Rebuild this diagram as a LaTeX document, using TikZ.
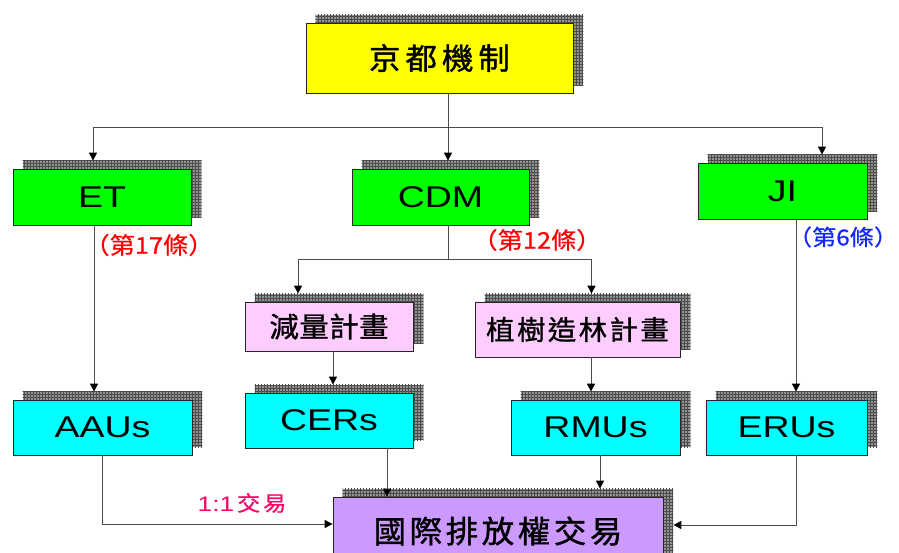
\documentclass[tikz,border=0pt]{standalone}
\usepackage{fontspec}
\setmainfont{Liberation Sans}
\newfontfamily\lat[FakeStretch=1.25]{Liberation Sans}
\newfontfamily\cjk[FakeStretch=1.05,FakeBold=1.2]{Noto Sans CJK TC}
\newfontfamily\cjkn[FakeStretch=1.1,FakeBold=0.8]{Noto Sans CJK TC}
\usetikzlibrary{arrows.meta,patterns,calc,backgrounds}
\makeatletter
\def\spc#1#2{\def\spc@gap{#1}\spc@i#2\relax}
\def\spc@i#1#2{#1\ifx\relax#2\else\hspace{\spc@gap}\expandafter\spc@i\expandafter#2\fi}
\makeatother
\definecolor{cyel}{RGB}{255,255,0}
\definecolor{cgrn}{RGB}{0,255,0}
\definecolor{ccyn}{RGB}{0,255,255}
\definecolor{cpnk}{RGB}{255,204,255}
\definecolor{cpur}{RGB}{204,153,255}
\definecolor{cred}{RGB}{255,0,0}
\definecolor{cblu}{RGB}{20,40,255}
\definecolor{cmag}{RGB}{255,0,102}
\tikzset{
  box/.style 2 args={draw=black!85, line width=0.8pt, inner sep=0pt,
    minimum width=#1pt, minimum height=#2pt},
  lt/.style={font=\lat\fontsize{30}{30}\selectfont},
  shadowfill/.style={preaction={fill=gray!85}, pattern=grid, pattern color=black!70},
  ln/.style={draw=black!70, line width=1pt},
  arr/.style={ln, -{Triangle[length=8pt,width=8pt,black]}},
  lab/.style={font=\cjkn\fontsize{23}{23}\selectfont, inner sep=0pt},
}
\begin{document}
\begin{tikzpicture}[x=1pt,y=-1pt]
\useasboundingbox (0,0) rectangle (899,553);
% boxes
\node[box={267}{70}, fill=cyel] (top) at (439.5,58)
  {\cjk\fontsize{30}{30}\selectfont\spc{5pt}{京都機制}};
\node[box={178}{56}, fill=cgrn, lt] (et) at (102,197) {ET};
\node[box={177}{56}, fill=cgrn, lt] (cdm) at (440.5,197) {CDM};
\node[box={169}{56}, fill=cgrn, lt] (ji) at (782.5,191) {JI};
\node[box={168}{49}, fill=cpnk] (jl) at (329,326.5)
  {\cjk\fontsize{28}{28}\selectfont\spc{0.5pt}{減量計畫}};
\node[box={205}{55}, fill=cpnk] (zs) at (577.5,329.5)
  {\cjk\fontsize{27}{27}\selectfont\spc{2.5pt}{植樹造林計畫}};
\node[box={179}{55}, fill=ccyn, lt] (aau) at (102.5,427.5) {AAUs};
\node[box={168}{55}, fill=ccyn, lt] (cer) at (329,420.5) {CERs};
\node[box={169}{55}, fill=ccyn, lt] (rmu) at (595.5,427.5) {RMUs};
\node[box={161}{55}, fill=ccyn, lt] (eru) at (786.5,427.5) {ERUs};
\node[box={330}{68}, fill=cpur] (trade) at (498,531)
  {\cjk\fontsize{31}{31}\selectfont\spc{3.5pt}{國際排放權交易}};
% shadows
\begin{scope}[on background layer]
\foreach \n in {top,et,cdm,ji,jl,zs,aau,cer,rmu,eru,trade}
  \fill[shadowfill] ($(\n.south west)+(10,-8)$) rectangle ($(\n.north east)+(10,-8)$);
\end{scope}
% labels
\node[lab, text=cred] (l17) at (149,245) {（第17條）};
\node[lab, text=cred] (l12) at (537,240) {（第12條）};
\node[lab, text=cblu, font=\cjkn\fontsize{22}{22}\selectfont] (l6) at (843,237) {（第6條）};
\node[inner sep=0pt, text=cmag] (l11) at (242,503)
  {{\lat\fontsize{21}{21}\selectfont 1:1}\hspace{3pt}{\cjkn\fontsize{21}{21}\selectfont 交\hspace{3pt}易}};
% connectors
\coordinate (bus1) at (448,128);
\draw[ln] ($(top.south)+(8.5,0)$) -- (bus1);
\draw[arr] (bus1) -| ($(et.north)+(-9,-8)$);
\draw[arr] (bus1) -- ($(cdm.north)+(7.5,-8)$);
\draw[arr] (bus1) -| ($(ji.north)+(39.5,-8)$);
\draw[arr] ($(et.south)+(-8,0)$) -- ($(aau.north)+(-8.5,-8)$);
\coordinate (bus2) at (448,260);
\draw[ln] ($(cdm.south)+(7.5,0)$) -- (bus2);
\draw[arr] (bus2) -| ($(jl.north)+(-31,-8)$);
\draw[arr] (bus2) -| ($(zs.north)+(14,-8)$);
\draw[arr] ($(ji.south)+(13.5,0)$) -- ($(eru.north)+(9.5,-8)$);
\draw[arr] ($(jl.south)+(4,0)$) -- ($(cer.north)+(4,-8)$);
\draw[arr] ($(zs.south)+(13.5,0)$) -- ($(rmu.north)+(-4.5,-8)$);
\draw[arr] ($(aau.south)+(-0.5,0)$) |- ($(trade.west)+(0,-7)$);
\draw[arr] ($(cer.south)+(58,0)$) -- ($(trade.north)+(-111,0)$);
\draw[arr] ($(rmu.south)+(4.5,0)$) -- ($(trade.north)+(102,-8)$);
\draw[arr] ($(eru.south)+(9.5,0)$) |- ($(trade.east)+(10,-6)$);
\end{tikzpicture}
\end{document}
